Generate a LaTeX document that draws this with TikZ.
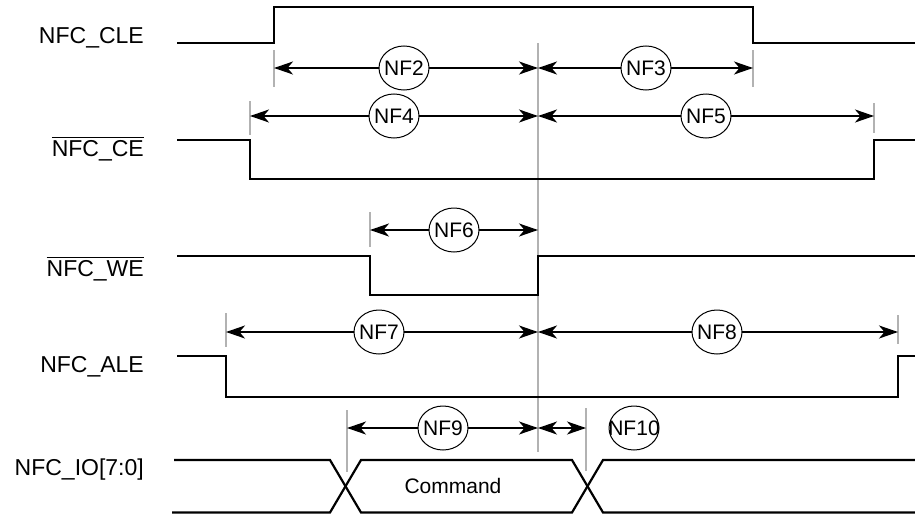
\documentclass[tikz,border=0pt]{standalone}
\usepackage{fontspec}
\setmainfont{Liberation Sans}
\usetikzlibrary{arrows.meta,shapes.geometric}
\newcommand\ctext[1]{\makebox[0pt]{#1}}
\newcommand\ovl[1]{\vbox{\hrule height 1.6pt\kern 2.2pt\hbox{#1}}}
\begin{document}
\begin{tikzpicture}[x=1pt,y=-1pt,
  sig/.style={line width=2.2pt, line join=miter},
  guide/.style={line width=1.8pt, draw=black!30},
  dimarrow/.style={line width=1.8pt, {Stealth[length=19pt,width=13pt,inset=5.5pt]}-{Stealth[length=19pt,width=13pt,inset=5.5pt]}},
  tag/.style={ellipse, draw, line width=1pt, fill=white, minimum width=50pt, minimum height=44pt, inner sep=0pt, font=\fontsize{21}{24}\selectfont},
  lbl/.style={anchor=base east, font=\fontsize{23}{26}\selectfont, inner sep=0pt}]
\useasboundingbox (0,0) rectangle (915,514);

% signal names
\node[lbl] (lcle) at (144,43) {NFC\_CLE};
\node[lbl] (lce) at (144,156.5) {\ovl{NFC\_CE}};
\node[lbl] (lwe) at (144,276.5) {\ovl{NFC\_WE}};
\node[lbl] (lale) at (144,372.5) {NFC\_ALE};
\node[lbl] (lio) at (144,475) {NFC\_IO[7:0]};

% guide lines
\draw[guide] (538,43) -- (538,452);
\draw[guide] (274,50) -- (274,87);
\draw[guide] (753,50) -- (753,87);
\draw[guide] (250,101) -- (250,135);
\draw[guide] (874,103) -- (874,133);
\draw[guide] (370,212) -- (370,247);
\draw[guide] (226,313) -- (226,347);
\draw[guide] (898,315) -- (898,344);
\draw[guide] (347,410) -- (347,472);
\draw[guide] (586,408) -- (586,471);

% waveforms
\draw[sig] (177,43) -| (274,7) -| (753,43) -- (915,43);
\draw[sig] (177,140) -| (250,179) -| (874,140) -- (915,140);
\draw[sig] (177,256) -| (370,295) -| (538,256) -- (915,256);
\draw[sig] (177,356) -| (226,397) -| (898,356) -- (915,356);
\draw[sig] (174,460) -- (330,460) -- (361,512.5) -- (572,512.5) -- (603,460) -- (915,460);
\draw[sig] (172,512.5) -- (330,512.5) -- (361,460) -- (572,460) -- (603,512.5) -- (915,512.5);
\node[font=\fontsize{21}{24}\selectfont, inner sep=0pt] (cmd) at (453,486) {Command};

% arrow end points
\coordinate (a2l) at (274,68);  \coordinate (a2r) at (538,68);
\coordinate (a3r) at (753,68);
\coordinate (a4l) at (250,116); \coordinate (a4r) at (538,116);
\coordinate (a5r) at (874,116);
\coordinate (a6l) at (370,230); \coordinate (a6r) at (538,230);
\coordinate (a7l) at (226,332); \coordinate (a7r) at (538,332);
\coordinate (a8r) at (898,332);
\coordinate (a9l) at (347,428);  \coordinate (a9r) at (538,428);
\coordinate (a10r) at (586,428);

\draw[dimarrow] (a2l) -- (a2r);
\draw[dimarrow] (a2r) -- (a3r);
\draw[dimarrow] (a4l) -- (a4r);
\draw[dimarrow] (a4r) -- (a5r);
\draw[dimarrow] (a6l) -- (a6r);
\draw[dimarrow] (a7l) -- (a7r);
\draw[dimarrow] (a7r) -- (a8r);
\draw[dimarrow] (a9l) -- (a9r);
\draw[dimarrow] (a9r) -- (a10r);

% tags
\node[tag] (nf2) at (404,68) {\ctext{NF2}};
\node[tag] (nf3) at (646,68) {\ctext{NF3}};
\node[tag] (nf4) at (394,116) {\ctext{NF4}};
\node[tag] (nf5) at (706,116) {\ctext{NF5}};
\node[tag] (nf6) at (454,230) {\ctext{NF6}};
\node[tag] (nf7) at (379,332) {\ctext{NF7}};
\node[tag] (nf8) at (717,332) {\ctext{NF8}};
\node[tag] (nf9) at (443,428) {\ctext{NF9}};
\node[tag] (nf10) at (634,428) {\ctext{NF10}};
\end{tikzpicture}
\end{document}
